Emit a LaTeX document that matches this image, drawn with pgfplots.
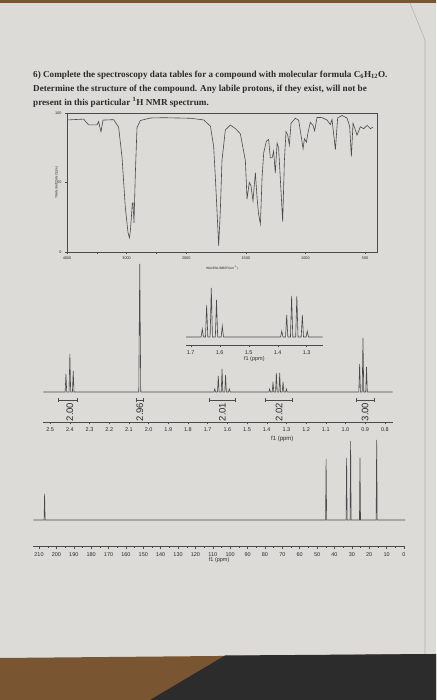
\documentclass[border=0pt]{standalone}
\usepackage{fontspec}
\setmainfont{Liberation Serif}
\setsansfont{Liberation Sans}
\usepackage{pgfplots}
\pgfplotsset{compat=1.18}
\definecolor{paper}{HTML}{DCDBD8}
\definecolor{ink}{HTML}{4A4A4A}
\definecolor{txt}{HTML}{2A2A2A}
\definecolor{wood}{HTML}{7A5532}
\definecolor{dark}{HTML}{2C2C2C}
\begin{document}
\begin{tikzpicture}
\path[use as bounding box] (0pt,0pt) rectangle (436pt,700pt);
\fill[paper] (0pt,0pt) rectangle (436pt,700pt);
\fill[wood] (0pt,697pt) rectangle (436pt,700pt);
\fill[wood] (0pt,0pt) -- (0pt,42pt) -- (436pt,46pt) -- (436pt,0pt) -- cycle;
\fill[dark] (150pt,0pt) -- (225pt,44.5pt) -- (436pt,46pt) -- (436pt,0pt) -- cycle;
\draw[black!30, line width=0.6pt] (410pt,697pt) -- (425pt,660pt) -- (425pt,46pt);

% header text
\begin{scope}[every node/.style={anchor=base west, text=txt, inner sep=0pt, font=\fontsize{9.15}{11}\selectfont\bfseries}]
\node at (33pt,622.5pt) {6) Complete the spectroscopy data tables for a compound with molecular formula C\textsubscript{6}H\textsubscript{12}O.};
\node at (33pt,608.5pt) {Determine the structure of the compound. Any labile protons, if they exist, will not be};
\node at (33pt,594.5pt) {present in this particular \textsuperscript{1}H NMR spectrum.};
\end{scope}

% IR spectrum
\begin{axis}[at={(67pt,448pt)}, anchor=south west, scale only axis,
  width=310pt, height=139pt,
  x coord trafo/.code={\pgfmathparse{#1>=2000 ? (4000-#1)/1000 : 2+(2000-#1)/500}},
  xmin=4000, xmax=400, ymin=0, ymax=100,
  xtick={4000,3000,2000,1500,1000,500},
  xticklabels={4000,3000,2000,1500,1000,500},
  extra x ticks={3500,2500}, extra x tick labels={},
  ytick={0,50,100}, yticklabels={0,50,100},
  tick align=outside, xtick pos=bottom, ytick pos=left,
  major tick length=2pt,
  tick style={ink, line width=0.4pt},
  axis line style={ink, line width=0.6pt},
  tick label style={font=\sffamily\fontsize{3.8}{4}\selectfont, text=txt},
  xticklabel style={yshift=1pt},
  xlabel={WAVENUMBER(cm\textsuperscript{-1})},
  ylabel={TRANSMITTANCE(\%)},
  label style={font=\sffamily\fontsize{3.2}{4}\selectfont, text=txt},
  xlabel style={yshift=4pt},
  ylabel style={yshift=-10pt},
]
\addplot[ink, line width=0.6pt] coordinates {
(3990,95.0)(3721,95.6)(3680,93.5)(3638,91.5)(3497,91.4)(3470,93.8)(3430,86.5)(3396,94.9)
(3218,95.2)(3134,89.8)(3077,68.2)(3022,32.1)(2977,14.1)(2953,10.2)(2938,14.8)(2921,24.4)
(2904,35.2)(2893,35.4)(2876,21.0)(2854,55.9)(2826,89.4)(2770,94.6)(2602,96.4)(2379,96.6)
(1965,96.2)(1853,95.0)(1797,90.5)(1770,76.0)(1756,54.1)(1742,29.9)(1728,4.5)(1714,29.8)
(1700,66.1)(1672,87.8)(1630,91.3)(1588,88.8)(1546,85.0)(1504,65.7)(1490,38.1)(1471,50.0)
(1457,47.6)(1440,36.8)(1420,57.1)(1406,39.0)(1393,27.1)(1378,20.2)(1364,53.4)(1350,71.4)
(1328,79.7)(1309,81.0)(1295,67.7)(1280,67.7)(1267,72.5)(1253,56.7)(1238,78.3)(1225,74.7)
(1211,53.0)(1191,21.8)(1177,65.1)(1163,86.6)(1149,84.2)(1135,77.0)(1121,92.6)(1085,96.2)
(1057,94.8)(1037,83.9)(1020,74.3)(1009,81.5)(992,78.9)(978,86.2)(959,93.3)(936,90.9)
(923,87.2)(903,96.8)(861,96.7)(819,94.9)(791,91.7)(777,95.3)(749,73.6)(730,96.5)
(693,98.2)(651,96.3)(629,90.3)(615,68.6)(601,92.6)(567,84.1)(540,90.1)(512,88.7)
(483,91.1)(455,88.7)(433,89.9)};
\end{axis}

% 1H NMR main
\begin{axis}[at={(43.3pt,278pt)}, anchor=south west, scale only axis,
  width=349.4pt, height=160pt, clip=false,
  xmin=0.76, xmax=2.535, x dir=reverse, ymin=-30, ymax=130,
  axis x line=bottom, axis y line=none,
  x axis line style={-, ink, line width=0.6pt},
  xtick={0.8,0.9,1.0,1.1,1.2,1.3,1.4,1.5,1.6,1.7,1.8,1.9,2.0,2.1,2.2,2.3,2.4,2.5},
  xticklabel style={/pgf/number format/.cd, fixed, fixed zerofill, precision=1},
  minor x tick num=4, tick align=outside,
  major tick length=2.5pt, minor tick length=1.3pt,
  tick style={ink, line width=0.4pt},
  /pgf/number format/assume math mode=true,
  tick label style={font=\sffamily\fontsize{5.5}{6}\selectfont, text=txt},
  xlabel={f1 (ppm)},
  xlabel style={font=\sffamily\fontsize{6}{6}\selectfont, text=txt, at={(ticklabel cs:0.684)}, anchor=north, yshift=3pt},
]
\addplot[ink, line width=0.6pt] coordinates {
(2.535,0)(2.424,0)(2.420,18)(2.416,0)(2.404,0)(2.400,38)(2.396,0)(2.387,0)(2.383,21)(2.379,0)
(2.050,0)(2.045,128)(2.040,0)
(1.668,0)(1.664,3)(1.660,0)(1.650,0)(1.646,16)(1.642,0)(1.631,0)(1.627,23)(1.623,0)
(1.613,0)(1.609,17)(1.605,0)(1.594,0)(1.590,3)(1.586,0)
(1.389,0)(1.385,3)(1.381,0)(1.372,0)(1.368,10)(1.364,0)(1.355,0)(1.351,19)(1.347,0)
(1.338,0)(1.334,19)(1.330,0)(1.321,0)(1.317,10)(1.313,0)(1.304,0)(1.300,3)(1.296,0)
(0.932,0)(0.928,28)(0.924,0)(0.915,0)(0.911,54)(0.907,0)(0.897,0)(0.893,25)(0.889,0)(0.76,0)};
\begin{scope}[ink, line width=0.5pt]
\draw (axis cs:2.46,-8) -- (axis cs:2.36,-8);
\draw (axis cs:2.46,-10) -- (axis cs:2.46,-6); \draw (axis cs:2.36,-10) -- (axis cs:2.36,-6);
\draw (axis cs:2.065,-8) -- (axis cs:2.025,-8);
\draw (axis cs:2.065,-10) -- (axis cs:2.065,-6); \draw (axis cs:2.025,-10) -- (axis cs:2.025,-6);
\draw (axis cs:1.69,-8) -- (axis cs:1.56,-8);
\draw (axis cs:1.69,-10) -- (axis cs:1.69,-6); \draw (axis cs:1.56,-10) -- (axis cs:1.56,-6);
\draw (axis cs:1.41,-8) -- (axis cs:1.27,-8);
\draw (axis cs:1.41,-10) -- (axis cs:1.41,-6); \draw (axis cs:1.27,-10) -- (axis cs:1.27,-6);
\draw (axis cs:0.945,-8) -- (axis cs:0.855,-8);
\draw (axis cs:0.945,-10) -- (axis cs:0.945,-6); \draw (axis cs:0.855,-10) -- (axis cs:0.855,-6);
\end{scope}
\begin{scope}[every node/.style={rotate=90, text=txt, inner sep=0pt, font=\sffamily\fontsize{9.5}{10}\selectfont}]
\node at (axis cs:2.40,-20) {2.00};
\node at (axis cs:2.045,-20) {2.96};
\node at (axis cs:1.625,-20) {2.01};
\node at (axis cs:1.337,-20) {2.02};
\node at (axis cs:0.90,-20) {3.00};
\end{scope}
\end{axis}

% 1H NMR inset
\begin{axis}[at={(186pt,355pt)}, anchor=south west, scale only axis,
  width=136.7pt, height=58pt,
  xmin=1.2448, xmax=1.7162, x dir=reverse, ymin=-8, ymax=50,
  axis x line=bottom, axis y line=none,
  x axis line style={-, ink, line width=0.6pt},
  xtick={1.3,1.4,1.5,1.6,1.7},
  xticklabel style={/pgf/number format/.cd, fixed, fixed zerofill, precision=1},
  minor x tick num=4, tick align=outside,
  major tick length=2.5pt, minor tick length=1.3pt,
  tick style={ink, line width=0.4pt},
  /pgf/number format/assume math mode=true,
  tick label style={font=\sffamily\fontsize{5.5}{6}\selectfont, text=txt},
  xlabel={f1 (ppm)},
  xlabel style={font=\sffamily\fontsize{5.5}{6}\selectfont, text=txt, yshift=5pt},
]
\addplot[ink, line width=0.6pt] coordinates {
(1.7162,0)(1.664,0)(1.660,8)(1.656,0)(1.649,0)(1.645,32)(1.641,0)(1.633,0)(1.629,49)(1.625,0)
(1.615,0)(1.611,37)(1.607,0)(1.595,0)(1.591,11)(1.587,0)
(1.390,0)(1.386,6)(1.382,0)(1.373,0)(1.369,22)(1.365,0)(1.356,0)(1.352,41)(1.348,0)
(1.338,0)(1.334,41)(1.330,0)(1.319,0)(1.315,22)(1.311,0)(1.302,0)(1.298,6)(1.294,0)(1.2448,0)};
\end{axis}

% 13C NMR
\begin{axis}[at={(33.3pt,153.3pt)}, anchor=south west, scale only axis,
  width=371.7pt, height=108.7pt,
  xmin=-0.6, xmax=213.3, x dir=reverse, ymin=-26.7, ymax=82,
  axis x line=bottom, axis y line=none,
  x axis line style={-, ink, line width=0.6pt},
  xtick={0,10,20,30,40,50,60,70,80,90,100,110,120,130,140,150,160,170,180,190,200,210},
  minor x tick num=1, tick align=outside,
  major tick length=2.5pt, minor tick length=1.3pt,
  tick style={ink, line width=0.4pt},
  /pgf/number format/assume math mode=true,
  tick label style={font=\sffamily\fontsize{5.5}{6}\selectfont, text=txt},
  xlabel={f1 (ppm)},
  xlabel style={font=\sffamily\fontsize{5.5}{6}\selectfont, text=txt, yshift=6pt},
]
\addplot[ink, line width=0.6pt] coordinates {
(213.3,0)(207.1,0)(206.8,26)(206.5,0)(45.1,0)(44.8,61)(44.5,0)(33.3,0)(33.0,62)(32.7,0)
(31.0,0)(30.7,79)(30.4,0)(25.6,0)(25.3,62)(25.0,0)(16.0,0)(15.7,80)(15.4,0)(-0.6,0)};
\end{axis}
\end{tikzpicture}
\end{document}
